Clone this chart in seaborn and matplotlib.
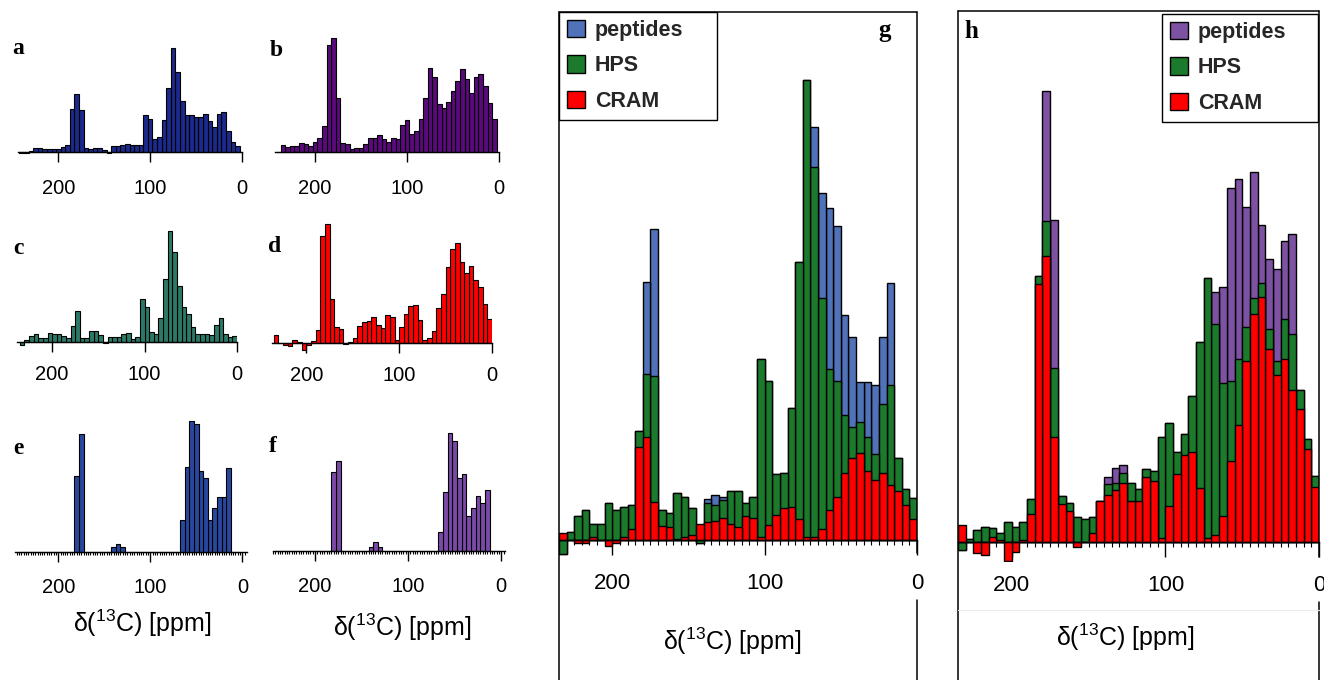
import numpy as np
import matplotlib
matplotlib.use("Agg")
import matplotlib.pyplot as plt
import seaborn as sns
from matplotlib.lines import Line2D
from matplotlib.patches import Patch

# ---------------- data ----------------
# bin centres (ppm)
ppm_ab = np.arange(240, 0, -5)        # 240 ... 5   (48 bins)
ppm_cd = np.arange(232.5, 0, -5)      # 232.5 ... 2.5 (47 bins)
ppm_ef = np.arange(240, 0, -5)        # 240 ... 5   (48 bins)
ppm_gh = np.arange(232.5, 0, -5)      # 232.5 ... 2.5 (47 bins)

a_vals = [-3, -3, 3, 12, 12, 10, 8, 10, 8, 15, 22, 130, 175, 127, 13, 10, 13, 13, 5, -2,
          18, 17, 22, 24, 22, 20, 22, 110, 98, 38, 45, 95, 193, 313, 241, 152, 112, 112,
          105, 105, 114, 92, 75, 115, 119, 62, 30, 17]
b_vals = [0, 20, 15, 17, 19, 27, 23, 17, 29, 43, 77, 322, 343, 163, 27, 24, 8, 12, 12, 23,
          43, 43, 52, 38, 29, 43, 38, 80, 95, 53, 63, 100, 163, 252, 225, 145, 133, 150,
          182, 213, 248, 220, 177, 225, 235, 199, 147, 100]
c_vals = [-10, 7, 18, 23, 11, 11, 28, 24, 24, 19, 12, 47, 93, 13, 13, 33, 32, 21, -2, 15,
          14, 14, 25, 27, 10, 16, 130, 106, 30, 25, 72, 190, 334, 270, 169, 104, 84, 44,
          23, 25, 25, 20, 51, 73, 25, 15, 17]
d_vals = [24, 0, -7, -10, 10, 2, -20, -7, 6, 38, 320, 357, 132, 49, 43, -2, 3, 15, 52, 62,
          67, 77, 53, 44, 84, 77, 8, 48, 87, 110, 115, 68, 8, 14, 37, 104, 148, 227, 282,
          300, 243, 210, 230, 190, 168, 118, 72]
e_vals = [0, 0, 0, 0, 0, 0, 0, 0, 0, 0, 0, 0, 227, 354, 0, 0, 0, 0, 0, 0, 14, 25, 14, 0,
          0, 0, 0, 0, 0, 0, 0, 0, 0, 0, 0, 97, 254, 393, 383, 243, 222, 97, 133, 165, 165,
          252, 0, 0]
f_vals = [0, 0, 0, 0, 0, 0, 0, 0, 0, 0, 0, 0, 238, 269, 0, 0, 0, 0, 0, 0, 13, 27, 13, 0,
          0, 0, 0, 0, 0, 0, 0, 0, 0, 0, 0, 58, 178, 353, 331, 218, 231, 106, 128, 166, 143,
          183, 0, 0]

g_peptides = [-14, 8, 24, 30, 16, 16, 37, 30, 33, 35, 109, 258, 311, 30, 27, 47, 43, 32, -3,
              41, 45, 43, 49, 49, 37, 43, 181, 159, 66, 67, 132, 278, 460, 413, 347, 332,
              314, 225, 203, 158, 158, 155, 203, 257, 82, 51, 42]
g_hps = [-14, 8, 24, 30, 16, 16, 37, 30, 33, 35, 109, 166, 164, 30, 27, 47, 43, 32, -3, 37,
         35, 40, 49, 49, 37, 43, 181, 159, 66, 67, 132, 278, 460, 373, 242, 171, 159, 125,
         113, 118, 103, 86, 136, 155, 82, 51, 42]
g_cram = [7, 0, -3, -3, 3, 0, -6, -3, 3, 11, 93, 103, 38, 14, 13, 1, 3, 5, 16, 18, 19, 22,
          16, 13, 24, 22, 3, 15, 25, 32, 33, 21, 3, 3, 11, 30, 43, 67, 82, 87, 69, 60, 67,
          55, 49, 35, 21]

h_peptides = [-8, 3, 12, 15, 14, 9, 20, 15, 20, 43, 266, 451, 322, 46, 39, 25, 23, 25, 41,
              65, 74, 77, 59, 53, 73, 71, 105, 119, 90, 108, 146, 200, 264, 250, 255, 354,
              363, 335, 370, 317, 283, 273, 301, 308, 152, 103, 66]
h_hps = [-8, 3, 12, 15, 14, 9, 20, 15, 20, 43, 266, 321, 174, 46, 39, 25, 23, 25, 41, 58,
         59, 69, 59, 53, 73, 71, 105, 119, 90, 108, 146, 200, 264, 218, 159, 161, 183, 215,
         244, 259, 213, 181, 223, 208, 152, 103, 66]
h_cram = [17, 0, -11, -13, 5, 2, -19, -10, 2, 28, 258, 286, 105, 38, 31, -5, 0, 9, 41, 47,
          52, 59, 41, 41, 65, 61, 4, 36, 68, 87, 90, 54, 4, 7, 26, 81, 117, 181, 228, 245,
          193, 167, 183, 152, 133, 93, 55]

series_names = ["peptides", "HPS", "CRAM"]
tick_vals = [200, 100, 0]
tick_labels = ["200", "100", "0"]
xlabel = "δ($^{13}$C) [ppm]"

# ---------------- style ----------------
sns.set_theme(style="ticks")
plt.rcParams["font.family"] = ["Liberation Sans", "DejaVu Sans"]
plt.rcParams["mathtext.default"] = "regular"

W, H = 1324, 680
fig = plt.figure(figsize=(W / 100, H / 100), dpi=100)
fig.patch.set_facecolor("white")


def add_ax(x0, x1, ytop, ybot):
    return fig.add_axes([x0 / W, 1 - ybot / H, (x1 - x0) / W, (ybot - ytop) / H])


def draw_bars(ax, ppm, vals, color, lw=0.8):
    sns.barplot(x=ppm, y=vals, native_scale=True, width=1, color=color, saturation=1,
                edgecolor="black", linewidth=lw, errorbar=None, ax=ax)


def style_axis(ax, xlim, ylim, tick_len, pad, labelsize, minor=None, minor_len=2):
    ax.set_xlim(*xlim)
    ax.set_ylim(*ylim)
    for s in ["left", "right", "top"]:
        ax.spines[s].set_visible(False)
    ax.spines["bottom"].set_position(("data", 0))
    ax.spines["bottom"].set_linewidth(1.0)
    ax.spines["bottom"].set_color("black")
    ax.set_yticks([])
    ax.set_xticks(tick_vals)
    ax.set_xticklabels(tick_labels)
    if minor is not None:
        ax.set_xticks(minor, minor=True)
    ax.tick_params(axis="x", which="major", bottom=True, direction="out", length=tick_len,
                   width=1, pad=pad, labelsize=labelsize, colors="black")
    ax.tick_params(axis="x", which="minor", bottom=True, direction="out", length=minor_len,
                   width=0.8, colors="black")
    ax.set_xlabel("")
    ax.set_ylabel("")
    ax.patch.set_alpha(0)


def small_panel(rect, ppm, vals, color, xlim, baseline, pad, minor=None):
    x0, x1, ytop, ybot = rect
    ax = add_ax(x0, x1, ytop, ybot)
    draw_bars(ax, ppm, vals, color)
    ylim = (-(ybot - baseline) * 3, (baseline - ytop) * 3)
    style_axis(ax, xlim, ylim, 7, pad, 14.5, minor=minor, minor_len=2)
    return ax


small_panel((18, 242, 30, 168), ppm_ab, a_vals, "#1b2a8c", (244, 0), 152, 12.5)
small_panel((275, 499, 30, 168), ppm_ab, b_vals, "#5a0a7c", (243.5, 0), 152, 12.5)
small_panel((17, 237, 215, 358), ppm_cd, c_vals, "#2b7a68", (238, 0), 342, 9.5)
small_panel((272, 492, 215, 358), ppm_cd, d_vals, "#ff0000", (237, 0), 343, 9.5)
minor_ef = np.arange(245, -5, -2.5)
small_panel((15, 247, 405, 568), ppm_ef, e_vals, "#2848a0", (247, -5), 552, 11.5, minor=minor_ef)
small_panel((273, 505, 405, 568), ppm_ef, f_vals, "#7b4aa8", (245, -4), 551, 11.5, minor=minor_ef)


def big_panel(rect, baseline, series, colors, legend_anchor):
    x0, x1, ytop, ybot = rect
    ax = add_ax(x0, x1, ytop, ybot)
    for vals, col in zip(series, colors):
        draw_bars(ax, ppm_gh, vals, col, lw=1.0)
    ylim = (-(ybot - baseline), baseline - ytop)
    style_axis(ax, (235, 0), ylim, 11, 13, 16, minor=np.arange(235, 0, -5), minor_len=3.5)
    handles = [Patch(facecolor=c, edgecolor="black", linewidth=1.0, label=n)
               for c, n in zip(colors, series_names)]
    leg = ax.legend(handles=handles, loc="upper left", bbox_to_anchor=legend_anchor,
                    mode="expand", borderaxespad=0, fancybox=False, framealpha=1,
                    edgecolor="black", prop={"weight": "bold", "size": 15.5},
                    handlelength=0.85, handleheight=0.85, handletextpad=0.45,
                    labelspacing=0.68, borderpad=0.36)
    leg.get_frame().set_linewidth(1.0)
    return ax


# g
gx0, gx1, gtop, gbot, gbase = 559, 917, 12, 560, 540
big_panel((gx0, gx1, gtop, gbot), gbase, [g_peptides, g_hps, g_cram],
          ["#4f72b8", "#1c7a2c", "#ff0000"], (0, 0, 158 / 358, 1))
# h
hx0, hx1, htop, hbot, hbase = 958, 1319, 11, 562, 542
big_panel((hx0, hx1, htop, hbot), hbase, [h_peptides, h_hps, h_cram],
          ["#7e52a3", "#1c7a2c", "#ff0000"],
          ((1162 - hx0) / 361, 0, 156 / 361, 1 - 3 / (hbot - htop)))


# frames of panels g and h
def fline(x0, y0, x1, y1, color="black", lw=1.1):
    fig.add_artist(Line2D([x0 / W, x1 / W], [1 - y0 / H, 1 - y1 / H], color=color, lw=lw,
                          transform=fig.transFigure))


fline(gx0, gtop, gx1, gtop)
fline(gx0, gtop, gx0, H)
fline(gx1, gtop, gx1, 553)
fline(gx1, 600, gx1, H)
fline(hx0, htop, hx1, htop)
fline(hx0, htop, hx0, H)
fline(hx1, htop, hx1, 557)
fline(hx1, 602, hx1, H)
fline(hx0, 610, hx1, 610, color="#ececec", lw=0.8)

# panel letters
for ch, x, y, fs in [("a", 18, 49, 17), ("b", 276, 50, 17), ("c", 18, 248, 17),
                     ("d", 275, 247, 17), ("e", 18, 448, 17), ("f", 273, 447, 17),
                     ("g", 885, 31, 18), ("h", 971, 32, 18)]:
    fig.text(x / W, 1 - y / H, ch, fontfamily=["Liberation Serif", "DejaVu Serif"],
             fontweight="bold", fontsize=fs, ha="center", va="center", color="black")

# x-axis labels
for x, y in [(142, 623), (402, 627), (732, 641), (1125, 637)]:
    fig.text(x / W, 1 - y / H, xlabel, fontsize=18, ha="center", va="center", color="black")

fig.savefig("out.png", dpi=100, facecolor="white")
